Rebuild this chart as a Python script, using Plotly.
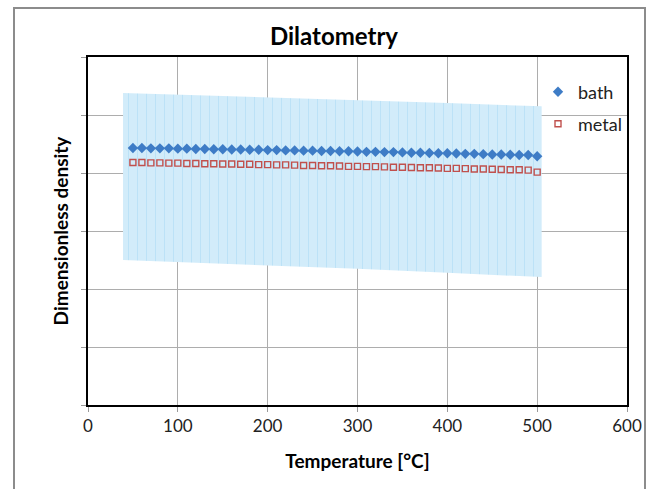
import plotly.graph_objects as go

# ---- data ----
temperature = [50, 60, 70, 80, 90, 100, 110, 120, 130, 140,
               150, 160, 170, 180, 190, 200, 210, 220, 230, 240,
               250, 260, 270, 280, 290, 300, 310, 320, 330, 340,
               350, 360, 370, 380, 390, 400, 410, 420, 430, 440,
               450, 460, 470, 480, 490, 500]
bath = [0.886, 0.886, 0.885, 0.885, 0.885, 0.884, 0.884, 0.883, 0.883, 0.882,
        0.882, 0.881, 0.881, 0.880, 0.880, 0.879, 0.879, 0.878, 0.878, 0.877,
        0.877, 0.876, 0.876, 0.875, 0.875, 0.874, 0.873, 0.873, 0.872, 0.872,
        0.871, 0.870, 0.870, 0.869, 0.868, 0.868, 0.867, 0.866, 0.866, 0.865,
        0.864, 0.864, 0.863, 0.862, 0.862, 0.858]
metal = [0.836, 0.836, 0.835, 0.835, 0.834, 0.834, 0.833, 0.833, 0.832, 0.832,
         0.831, 0.831, 0.830, 0.830, 0.829, 0.829, 0.828, 0.828, 0.827, 0.826,
         0.826, 0.825, 0.825, 0.824, 0.823, 0.823, 0.822, 0.822, 0.821, 0.820,
         0.820, 0.819, 0.818, 0.818, 0.817, 0.816, 0.816, 0.815, 0.814, 0.814,
         0.813, 0.812, 0.811, 0.811, 0.810, 0.803]
band_x = [39, 150, 300, 400, 505]
band_upper = [1.076, 1.066, 1.052, 1.041, 1.030]
band_lower = [0.500, 0.487, 0.470, 0.456, 0.441]
x_ticks = [0, 100, 200, 300, 400, 500, 600]

FONT = "Lato"

fig = go.Figure()

fig.add_trace(go.Scatter(
    x=band_x + band_x[::-1],
    y=band_upper + band_lower[::-1],
    fill="toself", fillcolor="rgb(208,235,250)",
    fillpattern=dict(shape="|", size=9, solidity=0.12,
                     fgcolor="rgb(165,216,244)", bgcolor="rgb(210,236,250)"),
    line=dict(width=0), mode="lines",
    showlegend=False, hoverinfo="skip",
))

fig.add_trace(go.Scatter(
    x=temperature, y=bath, mode="markers", name="bath",
    marker=dict(symbol="diamond", size=8, color="#3E7CC6"),
    legend="legend",
))
fig.add_trace(go.Scatter(
    x=temperature, y=metal, mode="markers", name="metal",
    marker=dict(symbol="square-open", size=6, color="#C0504D",
                line=dict(width=1.4, color="#C0504D")),
    legend="legend2",
))

# white box behind legend (hides gridlines like the original)
fig.add_shape(type="rect", xref="paper", yref="paper",
              x0=(553 - 88) / 539, x1=1.0, y0=(405 - 137) / 348, y1=(405 - 80) / 348,
              fillcolor="white", line=dict(width=0), layer="between")

# outer chart border
fig.add_shape(type="rect", xref="paper", yref="paper",
              x0=(14 - 88) / 539, x1=(645 - 88) / 539,
              y0=(405 - 495) / 348, y1=(405 - 8) / 348,
              line=dict(color="#8c8c8c", width=2), fillcolor="rgba(0,0,0,0)",
              layer="above")

fig.update_layout(
    width=656, height=489,
    margin=dict(l=88, r=29, t=57, b=84),
    paper_bgcolor="white", plot_bgcolor="white",
    font=dict(family=FONT, color="#000000"),
    title=dict(text="<b>Dilatometry</b>", x=334 / 656, xanchor="center",
               y=1 - 37 / 489, yanchor="middle",
               font=dict(family=FONT, size=24, color="#000000")),
    xaxis=dict(range=[0, 600], tickvals=x_ticks, ticktext=[str(v) for v in x_ticks],
               showgrid=True, gridcolor="#adadad", gridwidth=1,
               showline=True, linecolor="#000000", linewidth=1.5, mirror=True,
               ticks="outside", ticklen=5, tickcolor="#9a9a9a",
               tickfont=dict(family=FONT, size=17, color="#222222"),
               title=dict(text="<b>Temperature [°C]</b>", standoff=20,
                          font=dict(family=FONT, size=19, color="#000000")),
               zeroline=False),
    yaxis=dict(range=[0, 1.2], dtick=0.2, tick0=0,
               showgrid=True, gridcolor="#adadad", gridwidth=1,
               showline=True, linecolor="#000000", linewidth=1.5, mirror=True,
               ticks="outside", ticklen=5, tickcolor="#9a9a9a",
               showticklabels=False,
               title=dict(text="<b>Dimensionless density</b>", standoff=8,
                          font=dict(family=FONT, size=19, color="#000000")),
               zeroline=False),
    legend=dict(x=(538 - 88) / 539, y=(405 - 92) / 348, xanchor="left", yanchor="middle",
                bgcolor="rgba(0,0,0,0)", borderwidth=0,
                font=dict(family=FONT, size=18, color="#222222")),
    legend2=dict(x=(538 - 88) / 539, y=(405 - 124) / 348, xanchor="left", yanchor="middle",
                 bgcolor="rgba(0,0,0,0)", borderwidth=0,
                 font=dict(family=FONT, size=18, color="#222222")),
)

fig.write_html("out.html")
